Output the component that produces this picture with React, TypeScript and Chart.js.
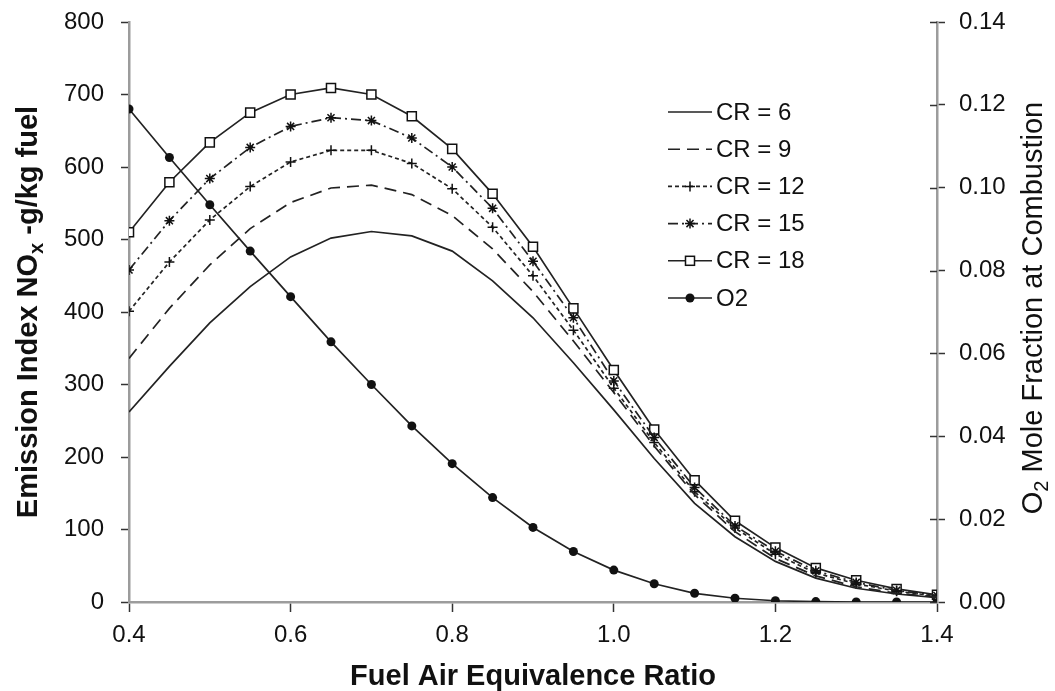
import React, { useEffect, useRef } from 'react';
import { Chart, registerables } from 'chart.js';

Chart.register(...registerables);

// ---- data ----
const phi = [0.4, 0.45, 0.5, 0.55, 0.6, 0.65, 0.7, 0.75, 0.8, 0.85, 0.9, 0.95, 1.0, 1.05, 1.1, 1.15, 1.2, 1.25, 1.3, 1.35, 1.4];
const cr6 = [262, 325, 385, 435, 476, 502, 511, 505, 484, 443, 392, 330, 265, 198, 136, 90, 56, 33, 19, 11, 6];
const cr9 = [336, 405, 465, 515, 551, 571, 575, 562, 533, 487, 428, 360, 289, 215, 148, 97, 60, 36, 21, 12, 7];
const cr12 = [401, 469, 527, 573, 607, 623, 623, 605, 570, 517, 450, 375, 295, 220, 152, 102, 66, 40, 25, 15, 8];
const cr15 = [458, 526, 584, 627, 656, 668, 664, 640, 600, 543, 470, 392, 305, 227, 158, 105, 70, 43, 27, 16, 9];
const cr18 = [510, 579, 634, 675, 700, 709, 700, 670, 625, 563, 490, 405, 320, 238, 168, 112, 75, 47, 30, 18, 10];
const o2 = [0.119, 0.1073, 0.0959, 0.0847, 0.0737, 0.0628, 0.0525, 0.0425, 0.0334, 0.0252, 0.018, 0.0122, 0.0077, 0.0044, 0.0021, 0.0009, 0.0003, 0.0001, 0, 0, 0];

const seriesLabels = ['CR = 6', 'CR = 9', 'CR = 12', 'CR = 15', 'CR = 18', 'O2'];
const xTickValues = [0.4, 0.6, 0.8, 1.0, 1.2, 1.4];
const leftTickValues = [0, 100, 200, 300, 400, 500, 600, 700, 800];
const rightTickValues = [0, 0.02, 0.04, 0.06, 0.08, 0.1, 0.12, 0.14];

const xTitle = 'Fuel Air Equivalence Ratio';
const leftTitleParts = ['Emission Index NO', 'x', ' -g/kg fuel'];
const rightTitleParts = ['O', '2', ' Mole Fraction at Combustion'];

const FONT = "'Liberation Sans', Arial, sans-serif";
const LINE = '#222';
const TEXT = '#111';
const AXIS = '#9c9c9c';

type Style = { dash: number[]; marker: string | null };
const styles: Style[] = [
  { dash: [], marker: null },
  { dash: [12, 7], marker: null },
  { dash: [4, 3], marker: 'cross' },
  { dash: [10, 4, 2, 4], marker: 'star' },
  { dash: [], marker: 'rect' },
  { dash: [], marker: 'circle' },
];

function drawMarker(ctx: CanvasRenderingContext2D, m: string | null, x: number, y: number) {
  if (!m) return;
  ctx.save();
  ctx.setLineDash([]);
  ctx.strokeStyle = '#111';
  ctx.fillStyle = '#111';
  ctx.lineWidth = 1.5;
  if (m === 'cross' || m === 'star') {
    const r = 5;
    ctx.beginPath();
    ctx.moveTo(x - r, y); ctx.lineTo(x + r, y);
    ctx.moveTo(x, y - r); ctx.lineTo(x, y + r);
    if (m === 'star') {
      const d = r * Math.SQRT1_2;
      ctx.moveTo(x - d, y - d); ctx.lineTo(x + d, y + d);
      ctx.moveTo(x - d, y + d); ctx.lineTo(x + d, y - d);
    }
    ctx.stroke();
  } else if (m === 'rect') {
    ctx.fillStyle = '#fff';
    ctx.fillRect(x - 4.5, y - 4.5, 9, 9);
    ctx.strokeRect(x - 4.5, y - 4.5, 9, 9);
  } else if (m === 'circle') {
    ctx.beginPath();
    ctx.arc(x, y, 4.5, 0, Math.PI * 2);
    ctx.fill();
  }
  ctx.restore();
}

function drawSubText(ctx: CanvasRenderingContext2D, parts: string[], size: number, weight: string, cx: number, cy: number) {
  const main = `${weight} ${size}px ${FONT}`;
  const sub = `${weight} ${Math.round(size * 0.68)}px ${FONT}`;
  ctx.font = main;
  const w0 = ctx.measureText(parts[0]).width;
  const w2 = ctx.measureText(parts[2]).width;
  ctx.font = sub;
  const w1 = ctx.measureText(parts[1]).width;
  const total = w0 + w1 + w2;
  let x = cx - total / 2;
  ctx.textAlign = 'left';
  ctx.textBaseline = 'middle';
  ctx.font = main;
  ctx.fillText(parts[0], x, cy);
  x += w0;
  ctx.font = sub;
  ctx.fillText(parts[1], x, cy + size * 0.3);
  x += w1;
  ctx.font = main;
  ctx.fillText(parts[2], x, cy);
}

const overlayPlugin = {
  id: 'overlay',
  afterDraw(chart: any) {
    const ctx: CanvasRenderingContext2D = chart.ctx;
    const area = chart.chartArea;
    ctx.save();
    // inward part of right-axis ticks
    ctx.strokeStyle = '#333';
    ctx.lineWidth = 1.5;
    ctx.beginPath();
    for (const v of rightTickValues) {
      const y = Math.round(chart.scales.y1.getPixelForValue(v)) + 0.5;
      ctx.moveTo(area.right - 7, y);
      ctx.lineTo(area.right, y);
    }
    ctx.stroke();

    // legend
    const lx0 = 668, lx1 = 712, tx = 716, ly0 = 112, dy = 37.2;
    seriesLabels.forEach((lab, i) => {
      const y = ly0 + i * dy;
      ctx.save();
      ctx.strokeStyle = LINE;
      ctx.lineWidth = 1.6;
      ctx.setLineDash(styles[i].dash);
      ctx.beginPath();
      ctx.moveTo(lx0, y);
      ctx.lineTo(lx1, y);
      ctx.stroke();
      ctx.restore();
      drawMarker(ctx, styles[i].marker, (lx0 + lx1) / 2, y);
      ctx.fillStyle = TEXT;
      ctx.font = `24px ${FONT}`;
      ctx.textAlign = 'left';
      ctx.textBaseline = 'middle';
      ctx.fillText(lab, tx, y + 1);
    });

    // axis titles
    ctx.fillStyle = TEXT;
    ctx.font = `bold 29px ${FONT}`;
    ctx.textAlign = 'center';
    ctx.textBaseline = 'middle';
    ctx.fillText(xTitle, (area.left + area.right) / 2, 677);

    const cy = (area.top + area.bottom) / 2;
    ctx.save();
    ctx.translate(29, cy);
    ctx.rotate(-Math.PI / 2);
    drawSubText(ctx, leftTitleParts, 29, 'bold', 0, 0);
    ctx.restore();

    ctx.save();
    ctx.translate(1034, cy - 4);
    ctx.rotate(-Math.PI / 2);
    drawSubText(ctx, rightTitleParts, 29, 'normal', 0, 0);
    ctx.restore();
    ctx.restore();
  },
};

function mk(label: string, vals: number[], i: number, axis: string) {
  const st = styles[i];
  const pointStyle = st.marker || 'circle';
  return {
    label,
    data: phi.map((x, k) => ({ x, y: vals[k] })),
    yAxisID: axis,
    borderColor: LINE,
    borderWidth: 1.7,
    borderDash: st.dash,
    pointStyle,
    pointRadius: st.marker ? (st.marker === 'rect' ? 6.4 : st.marker === 'circle' ? 4.5 : 5) : 0,
    pointBorderColor: '#111',
    pointBorderWidth: st.marker === 'circle' ? 0 : 1.5,
    pointBackgroundColor: st.marker === 'rect' ? '#fff' : '#111',
    tension: 0,
    fill: false,
  };
}

const noVPad = (s: any) => { s.paddingTop = 0; s.paddingBottom = 0; };

export default function App() {
  const ref = useRef<HTMLCanvasElement>(null);
  useEffect(() => {
    const tickFont = { family: FONT, size: 24 };
    const chart = new Chart(ref.current as HTMLCanvasElement, {
      type: 'line',
      data: {
        datasets: [
          mk(seriesLabels[0], cr6, 0, 'y'),
          mk(seriesLabels[1], cr9, 1, 'y'),
          mk(seriesLabels[2], cr12, 2, 'y'),
          mk(seriesLabels[3], cr15, 3, 'y'),
          mk(seriesLabels[4], cr18, 4, 'y'),
          mk(seriesLabels[5], o2, 5, 'y1'),
        ] as any,
      },
      options: {
        animation: false,
        responsive: false,
        devicePixelRatio: 1,
        layout: { padding: { top: 22, left: 0, right: 0, bottom: 0 } },
        plugins: { legend: { display: false }, tooltip: { enabled: false } },
        scales: {
          x: {
            type: 'linear',
            min: 0.4,
            max: 1.4,
            afterBuildTicks: (s: any) => { s.ticks = xTickValues.map((v) => ({ value: v })); },
            afterFit: (s: any) => { s.height = 89; s.paddingLeft = 0; s.paddingRight = 0; },
            ticks: { font: tickFont, color: TEXT, padding: 9, maxRotation: 0, autoSkip: false, callback: (v: any) => Number(v).toFixed(1) },
            grid: { drawOnChartArea: false, drawTicks: true, tickLength: 10, tickColor: '#333', tickWidth: 1.5 },
            border: { display: true, color: AXIS, width: 2.5 },
          },
          y: {
            type: 'linear',
            position: 'left',
            min: 0,
            max: 800,
            afterBuildTicks: (s: any) => { s.ticks = leftTickValues.map((v) => ({ value: v })); },
            afterFit: (s: any) => { s.width = 129; noVPad(s); },
            ticks: { font: tickFont, color: TEXT, padding: 17, autoSkip: false },
            grid: { drawOnChartArea: false, drawTicks: true, tickLength: 8, tickColor: '#333', tickWidth: 1.5 },
            border: { display: true, color: AXIS, width: 2.5 },
          },
          y1: {
            type: 'linear',
            position: 'right',
            min: 0,
            max: 0.14,
            afterBuildTicks: (s: any) => { s.ticks = rightTickValues.map((v) => ({ value: v })); },
            afterFit: (s: any) => { s.width = 118; noVPad(s); },
            ticks: { font: tickFont, color: TEXT, padding: 14, autoSkip: false, callback: (v: any) => Number(v).toFixed(2) },
            grid: { drawOnChartArea: false, drawTicks: true, tickLength: 8, tickColor: '#333', tickWidth: 1.5 },
            border: { display: true, color: AXIS, width: 2.5 },
          },
        },
      } as any,
      plugins: [overlayPlugin],
    });
    return () => chart.destroy();
  }, []);
  return (
    <div style={{ position: 'absolute', left: 0, top: 0, width: 1055, height: 691, background: '#fff' }}>
      <canvas ref={ref} width={1055} height={691} style={{ display: 'block', width: 1055, height: 691 }} />
    </div>
  );
}
